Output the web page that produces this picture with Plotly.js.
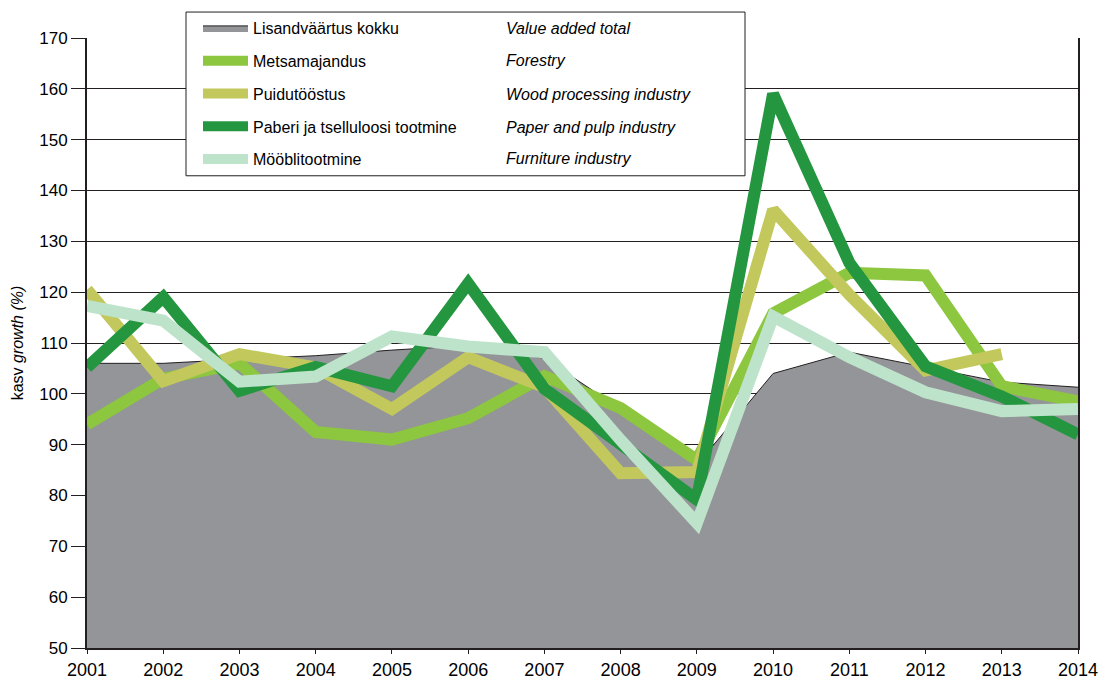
<!DOCTYPE html>
<html>
<head>
<meta charset="utf-8">
<script src="https://cdn.plot.ly/plotly-3.0.1.min.js"></script>
<style>
  html, body { margin: 0; padding: 0; background: #ffffff; }
  #chart { width: 1103px; height: 680px; }
</style>
</head>
<body>
<div id="chart"></div>
<script>
// Growth index of value added, forest sector (previous year = 100)
const years = [2001, 2002, 2003, 2004, 2005, 2006, 2007, 2008, 2009, 2010, 2011, 2012, 2013, 2014];

const valueAddedTotal = [106, 106, 106.8, 107.5, 108.6, 109.5, 107, 97, 86, 104, 108.2, 105.2, 102.3, 101.3];
const forestry        = [94, 103, 106, 92.5, 91, 95.2, 103.5, 97.2, 87, 115.8, 123.8, 123.3, 101.5, 98.5];
const woodProcessing  = [120.5, 102.5, 107.8, 105.2, 97, 107.2, 101.3, 84.4, 84.6, 136.2, 119.5, 104.6, 107.8, null];
const paperAndPulp    = [105.2, 119, 100.6, 105.3, 101.5, 121.7, 101, 90, 79.2, 159, 125.8, 105.4, 99.5, 92];
const furniture       = [117.3, 114.4, 102.4, 103.4, 111.3, 109.3, 108.2, 90.9, 74.6, 115.2, 107.2, 100.3, 96.6, 97];

const namesEt = ['Lisandväärtus kokku', 'Metsamajandus', 'Puidutööstus', 'Paberi ja tselluloosi tootmine', 'Mööblitootmine'];
const namesEn = ['Value added total', 'Forestry', 'Wood processing industry', 'Paper and pulp industry', 'Furniture industry'];

const lineW = 12;
const font = "'Liberation Sans', Arial, sans-serif";

const traces = [
  {
    x: years, y: valueAddedTotal, name: namesEt[0], type: 'scatter', mode: 'lines',
    fill: 'tozeroy', fillcolor: '#939598',
    line: { color: '#231f20', width: 1 }, legendgroup: 'g0'
  },
  {
    x: years, y: forestry, name: namesEt[1], type: 'scatter', mode: 'lines',
    line: { color: '#8dc63f', width: lineW }, legendgroup: 'g1'
  },
  {
    x: years, y: woodProcessing, name: namesEt[2], type: 'scatter', mode: 'lines',
    connectgaps: false,
    line: { color: '#c3c85c', width: lineW }, legendgroup: 'g2'
  },
  {
    x: years, y: paperAndPulp, name: namesEt[3], type: 'scatter', mode: 'lines',
    line: { color: '#23963f', width: lineW }, legendgroup: 'g3'
  },
  {
    x: years, y: furniture, name: namesEt[4], type: 'scatter', mode: 'lines',
    line: { color: '#bee3cb', width: lineW }, legendgroup: 'g4'
  }
];

// plot area in pixels: left 87, right 1078, top 37, bottom 648
const L = 87, R = 1078, T = 37, B = 648;
const px = v => (v - L) / (R - L);
const py = v => (B - v) / (B - T);

const rowY = [27, 60, 94, 127, 158];
const enAnnotations = namesEn.map((t, i) => ({
  xref: 'paper', yref: 'paper', x: px(504), y: py(rowY[i]),
  xanchor: 'left', yanchor: 'middle', showarrow: false,
  text: '<i>' + t + '</i>',
  font: { family: font, size: 16, color: '#000000' }
}));

const layout = {
  width: 1103, height: 680,
  margin: { l: L, r: 1103 - R, t: T, b: 680 - B, pad: 0 },
  paper_bgcolor: '#ffffff', plot_bgcolor: '#ffffff',
  font: { family: font, size: 17, color: '#000000' },
  showlegend: true,
  legend: {
    x: px(198), y: py(11), xanchor: 'left', yanchor: 'top',
    bgcolor: 'rgba(0,0,0,0)', borderwidth: 0,
    font: { family: font, size: 16, color: '#000000' },
    tracegroupgap: 9, itemwidth: 45
  },
  xaxis: {
    range: [2001, 2014], tickmode: 'array', tickvals: years,
    ticks: 'outside', ticklen: 4, tickcolor: '#231f20', tickwidth: 1,
    showline: true, linecolor: '#231f20', linewidth: 2, mirror: false,
    showgrid: false, zeroline: false,
    tickfont: { family: font, size: 18 }
  },
  yaxis: {
    range: [50, 170], dtick: 10, tick0: 50,
    ticks: 'outside', ticklen: 14, tickcolor: '#231f20', tickwidth: 1,
    showline: true, linecolor: '#231f20', linewidth: 2, mirror: true,
    showgrid: true, gridcolor: '#231f20', gridwidth: 1, zeroline: false,
    tickfont: { family: font, size: 17 },
    title: { text: 'kasv <i>growth (%)</i>', font: { family: font, size: 16 }, standoff: 12 }
  },
  shapes: [
    {
      type: 'rect', xref: 'paper', yref: 'paper', layer: 'above',
      x0: px(186), x1: px(745), y0: py(175), y1: py(11),
      fillcolor: '#ffffff', line: { color: '#231f20', width: 1 }
    }
  ],
  annotations: enAnnotations
};

Plotly.newPlot('chart', traces, layout, { displayModeBar: false, staticPlot: true });
</script>
</body>
</html>
